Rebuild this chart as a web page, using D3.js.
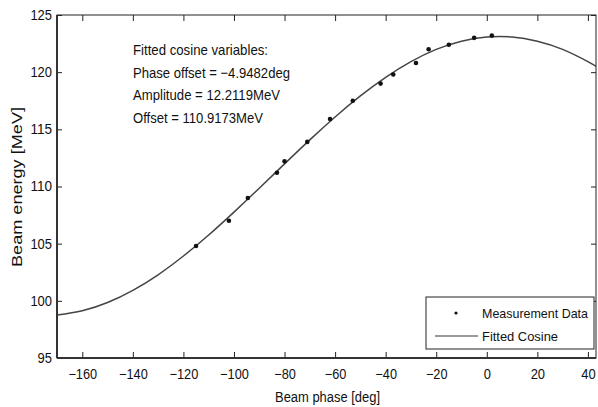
<!DOCTYPE html>
<html>
<head>
<meta charset="utf-8">
<script src="https://cdn.jsdelivr.net/npm/d3@7"></script>
<style>
  body { margin: 0; background: #fff; }
  svg text { font-family: "Liberation Sans", Arial, Helvetica, sans-serif; fill: #111; }
</style>
</head>
<body>
<svg id="chart" width="598" height="407"></svg>
<script>
const measPhase = [-115, -102, -94.5, -83, -80, -71, -62, -53, -42, -37, -28, -23, -15, -5, 2];
const measEnergy = [104.8, 107.0, 109.0, 111.2, 112.2, 113.9, 115.9, 117.5, 119.0, 119.8, 120.8, 122.0, 122.4, 123.0, 123.2];

// fitted cosine line, sampled along the drawn curve
const fitPhase = [-170, -160, -150, -140, -130, -120, -110, -100, -90, -80, -70, -60, -50, -40, -30, -20, -10, 0, 10, 20, 30, 40, 43.2];
const fitEnergy = [98.75, 99.13, 99.85, 100.92, 102.28, 103.92, 105.76, 107.76, 109.85, 111.98, 114.08, 116.08, 117.92, 119.55, 120.92, 121.99, 122.71, 123.08, 123.08, 122.71, 121.99, 120.92, 120.5];

const xTicks = [-160, -140, -120, -100, -80, -60, -40, -20, 0, 20, 40];
const yTicks = [95, 100, 105, 110, 115, 120, 125];

const fitText = [
    "Fitted cosine variables:",
    "Phase offset = \u22124.9482deg",
    "Amplitude = 12.2119MeV",
    "Offset = 110.9173MeV"
];
const legendLabels = ["Measurement Data", "Fitted Cosine"];

const margin = { top: 15, right: 2, bottom: 49, left: 57 };
const width = 598 - margin.left - margin.right;
const height = 407 - margin.top - margin.bottom;

const svg = d3.select("#chart");
const g = svg.append("g").attr("transform", `translate(${margin.left},${margin.top})`);

const xScale = d3.scaleLinear().domain([-170, 43.2]).range([0, width]);
const yScale = d3.scaleLinear().domain([95, 125]).range([height, 0]);

// squeeze text a bit, the original is narrow
const fitWidth = s => s.length * 7.2;

g.append("clipPath").attr("id", "clip")
    .append("rect").attr("width", width).attr("height", height);

// curve
const fitPts = fitPhase.map((p, i) => [p, fitEnergy[i]]);
g.append("path")
    .datum(fitPts)
    .attr("clip-path", "url(#clip)")
    .attr("fill", "none")
    .attr("stroke", "#444")
    .attr("stroke-width", 1.5)
    .attr("d", d3.line().x(d => xScale(d[0])).y(d => yScale(d[1])).curve(d3.curveNatural));

// measurement points
g.selectAll("circle.meas")
    .data(measPhase.map((p, i) => [p, measEnergy[i]]))
    .join("circle")
    .attr("class", "meas")
    .attr("cx", d => xScale(d[0]))
    .attr("cy", d => yScale(d[1]))
    .attr("r", 2.3)
    .attr("fill", "#111");

// axes
const xAxis = g.append("g")
    .attr("transform", `translate(0,${height})`)
    .call(d3.axisBottom(xScale).tickValues(xTicks).tickSizeInner(-6).tickSizeOuter(0).tickPadding(11)
        .tickFormat(d => d < 0 ? "\u2212" + Math.abs(d) : d));
const yAxis = g.append("g")
    .call(d3.axisLeft(yScale).tickValues(yTicks).tickSizeInner(-5).tickSizeOuter(0).tickPadding(5));
// mirrored ticks
g.append("g")
    .call(d3.axisTop(xScale).tickValues(xTicks).tickSizeInner(-6).tickSizeOuter(0).tickFormat(""));
g.append("g")
    .attr("transform", `translate(${width},0)`)
    .call(d3.axisRight(yScale).tickValues(yTicks).tickSizeInner(-5).tickSizeOuter(0).tickFormat(""));

g.selectAll(".domain").remove();
g.selectAll(".tick line").attr("stroke", "#222");
[xAxis, yAxis].forEach(a => a.selectAll(".tick text")
    .attr("font-size", 14)
    .attr("fill", "#111")
    .each(function () {
        const t = d3.select(this);
        t.attr("textLength", fitWidth(t.text())).attr("lengthAdjust", "spacingAndGlyphs");
    }));

// frame
g.append("rect")
    .attr("width", width).attr("height", height)
    .attr("fill", "none").attr("stroke", "#222").attr("stroke-width", 1);
g.append("line").attr("x1", 0).attr("x2", width).attr("y1", height).attr("y2", height)
    .attr("stroke", "#333").attr("stroke-width", 2);
g.append("line").attr("x1", 0).attr("x2", 0).attr("y1", 0).attr("y2", height)
    .attr("stroke", "#333").attr("stroke-width", 2);

// fit annotation
const textWidths = [135, 157, 147, 130];
g.selectAll("text.fit")
    .data(fitText)
    .join("text")
    .attr("class", "fit")
    .attr("x", 133 - margin.left)
    .attr("y", (d, i) => 40 + i * 22.6)
    .attr("font-size", 15)
    .attr("textLength", (d, i) => textWidths[i])
    .attr("lengthAdjust", "spacingAndGlyphs")
    .text(d => d);

// axis titles
svg.append("text")
    .attr("x", 275).attr("y", 402)
    .attr("font-size", 14)
    .attr("textLength", 105).attr("lengthAdjust", "spacingAndGlyphs")
    .text("Beam phase [deg]");
svg.append("text")
    .attr("transform", "translate(22,267) rotate(-90)")
    .attr("font-size", 14)
    .attr("textLength", 160).attr("lengthAdjust", "spacingAndGlyphs")
    .text("Beam energy [MeV]");

// legend
const legend = svg.append("g").attr("transform", "translate(426,297)");
legend.append("rect")
    .attr("width", 168).attr("height", 52)
    .attr("fill", "#fff").attr("stroke", "#222");
legend.append("circle").attr("cx", 30).attr("cy", 16).attr("r", 1.6).attr("fill", "#111");
legend.append("line").attr("x1", 9).attr("x2", 52).attr("y1", 39).attr("y2", 39)
    .attr("stroke", "#9a9a9a").attr("stroke-width", 2);
legend.selectAll("text")
    .data(legendLabels)
    .join("text")
    .attr("x", 56)
    .attr("y", (d, i) => 21 + i * 23)
    .attr("font-size", 13)
    .attr("textLength", (d, i) => [106, 76][i])
    .attr("lengthAdjust", "spacingAndGlyphs")
    .text(d => d);
</script>
</body>
</html>
